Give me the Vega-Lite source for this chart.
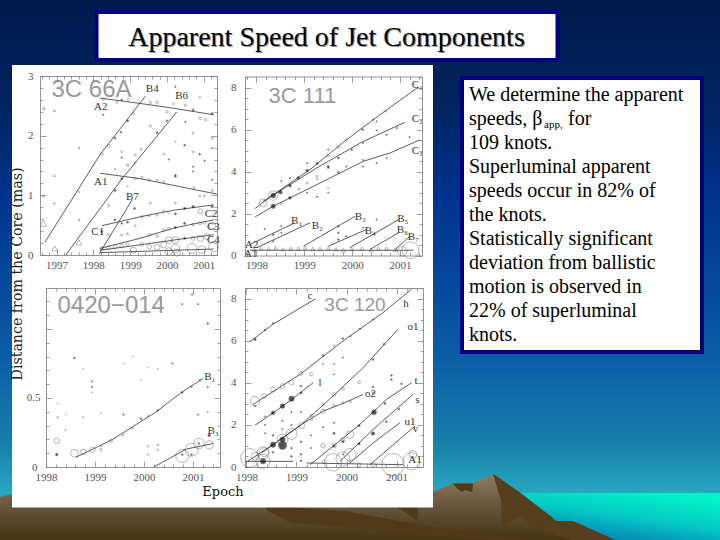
{
"$schema":"https://vega.github.io/schema/vega-lite/v6.json",
"width":720,"height":540,"padding":0,"autosize":{"type":"none"},
"background":"#01235f",
"view":{"stroke":null,"fill":{"gradient":"linear","x1":0,"y1":0,"x2":0,"y2":1,"stops":[{"offset":0,"color":"#021a4c"},{"offset":0.19,"color":"#01245f"},{"offset":0.37,"color":"#003490"},{"offset":0.65,"color":"#0a5ba6"},{"offset":0.82,"color":"#177fab"},{"offset":0.91,"color":"#29a6bf"},{"offset":1,"color":"#29a6bf"}]}},
"config":{"axis":{"grid":false,"title":null,"labelFont":"Liberation Serif","labelFontSize":11,"labelColor":"#555","domainColor":"#777","tickColor":"#777","domainWidth":0.8,"tickWidth":0.7,"labelOverlap":false,"labelBound":false,"labelFlush":false}},
"datasets":{
"land":[{"km":0,"top":497,"base":540},{"km":12,"top":494,"base":540},{"km":200,"top":494,"base":540},{"km":433,"top":492,"base":540},{"km":453,"top":483.5,"base":540},{"km":473,"top":483,"base":540},{"km":493,"top":474,"base":540},{"km":520,"top":495,"base":540},{"km":560,"top":525,"base":540},{"km":615,"top":540,"base":540}],
"ridge":[{"km":493,"top":474,"base":474},{"km":501,"top":479,"base":500},{"km":502,"top":480,"base":526},{"km":518,"top":491,"base":517},{"km":553,"top":518,"base":534},{"km":556,"top":521,"base":536},{"km":573,"top":521,"base":540},{"km":600,"top":533,"base":540},{"km":615,"top":540,"base":540}],
"notch":[{"km":453,"top":483.5,"base":484},{"km":458,"top":483.5,"base":489},{"km":462,"top":483.5,"base":492},{"km":465,"top":483.5,"base":490},{"km":472,"top":483.5,"base":492},{"km":473,"top":483.5,"base":484}],
"wedge":[{"km":266,"top":507,"base":510},{"km":291,"top":507,"base":523},{"km":345,"top":511,"base":527},{"km":420,"top":525,"base":535},{"km":500,"top":536,"base":540},{"km":530,"top":540,"base":540}],
"spur":[{"km":397,"top":507,"base":507},{"km":417,"top":507,"base":520},{"km":418,"top":507,"base":521}],
"p1lines":[
{"id":"A2","x":1998.18,"y":2.63},{"id":"A2","x":1999.27,"y":2.54},{"id":"A2","x":2000.18,"y":2.46},{"id":"A2","x":2001.27,"y":2.35},
{"id":"B4","x":1996.68,"y":0.21},{"id":"B4","x":1998.18,"y":1.68},{"id":"B4","x":1999.41,"y":2.66},
{"id":"B6","x":1997.25,"y":0},{"id":"B6","x":1998.77,"y":1.27},{"id":"B6","x":2000.27,"y":2.4},
{"id":"A1","x":1998.18,"y":1.37},{"id":"A1","x":1999.27,"y":1.28},{"id":"A1","x":2001.36,"y":1.02},
{"id":"B7","x":1998.16,"y":0.02},{"id":"B7","x":1999.05,"y":0.92},
{"id":"C1","x":1998.23,"y":0.49},{"id":"C1","x":1999.27,"y":0.64},{"id":"C1","x":2000.18,"y":0.75},{"id":"C1","x":2001.27,"y":0.84},
{"id":"C3","x":1998.18,"y":0.11},{"id":"C3","x":1999.27,"y":0.28},{"id":"C3","x":2000.18,"y":0.45},{"id":"C3","x":2001.27,"y":0.59},
{"id":"C4","x":1998.18,"y":0.08},{"id":"C4","x":1999.27,"y":0.17},{"id":"C4","x":2000.18,"y":0.25},{"id":"C4","x":2001.27,"y":0.34},
{"id":"C5","x":1998.18,"y":0.04},{"id":"C5","x":2001.27,"y":0.1}],
"p1pts":[
{"x":1996.64,"y":0.53,"f":45,"k":"t"},{"x":1996.95,"y":0.11,"f":35,"k":"t"},{"x":1997.61,"y":0.21,"f":35,"k":"t"},{"x":1996.65,"y":2.46,"f":8,"k":"t"},{"x":1996.94,"y":2.42,"f":6,"k":"t"},{"x":1997.61,"y":1.8,"f":4,"k":"t"},{"x":1996.64,"y":0.99,"f":6,"k":"t"},{"x":1996.94,"y":1.33,"f":4,"k":"t"},{"x":1996.94,"y":0.87,"f":3,"k":"t"},{"x":1997.61,"y":1.06,"f":3,"k":"t"},{"x":1997.61,"y":0.59,"f":5,"k":"t"},
{"x":1998.23,"y":1.69,"f":8,"k":"o"},{"x":1998.41,"y":1.83,"f":8,"k":"o"},{"x":1998.59,"y":1.96,"f":4,"k":"f"},{"x":1998.75,"y":2.06,"f":3,"k":"f"},{"x":1998.93,"y":2.25,"f":5,"k":"f"},{"x":1999.09,"y":2.37,"f":5,"k":"o"},{"x":1998.27,"y":2.61,"f":6,"k":"o"},{"x":1998.64,"y":2.56,"f":5,"k":"o"},{"x":1998.77,"y":2.6,"f":3,"k":"f"},{"x":1998.95,"y":2.61,"f":6,"k":"o"},{"x":1999.55,"y":2.56,"f":6,"k":"o"},{"x":1999.73,"y":2.56,"f":6,"k":"o"},{"x":2000,"y":2.4,"f":6,"k":"o"},{"x":2000.5,"y":2.51,"f":5,"k":"o"},{"x":2000.71,"y":2.43,"f":4,"k":"f"},{"x":2000.91,"y":2.29,"f":6,"k":"o"},{"x":2001.05,"y":2.27,"f":6,"k":"o"},{"x":2001.23,"y":2.37,"f":4,"k":"f"},{"x":2001.23,"y":1.96,"f":5,"k":"o"},{"x":2000.18,"y":2.53,"f":4,"k":"o"},{"x":2000.23,"y":2.82,"f":2,"k":"f"},{"x":2000.89,"y":2.64,"f":3,"k":"o"},
{"x":1998.41,"y":0.83,"f":5,"k":"o"},{"x":1998.59,"y":1.08,"f":4,"k":"f"},{"x":1998.77,"y":1.28,"f":4,"k":"f"},{"x":1999.14,"y":1.54,"f":4,"k":"o"},{"x":1999.3,"y":1.77,"f":5,"k":"o"},{"x":1999.55,"y":2.16,"f":5,"k":"o"},{"x":1999.73,"y":2.05,"f":4,"k":"f"},{"x":2000,"y":2.25,"f":3,"k":"f"},
{"x":1999.14,"y":1.28,"f":5,"k":"o"},{"x":1999.32,"y":1.3,"f":5,"k":"o"},{"x":1999.52,"y":1.26,"f":5,"k":"o"},{"x":1999.73,"y":1.25,"f":5,"k":"o"},{"x":1999.91,"y":1.23,"f":5,"k":"o"},{"x":2000.73,"y":1.13,"f":4,"k":"o"},{"x":2001.23,"y":1.08,"f":6,"k":"o"},{"x":2000.89,"y":0.99,"f":5,"k":"o"},{"x":2001.02,"y":0.99,"f":5,"k":"o"},{"x":2000.23,"y":1.32,"f":4,"k":"f"},
{"x":1998.27,"y":2.35,"f":2,"k":"f"},{"x":1998.77,"y":1.73,"f":4,"k":"o"},{"x":1998.77,"y":1.63,"f":2,"k":"f"},{"x":1998.93,"y":1.51,"f":8,"k":"t"},{"x":1999.14,"y":1.68,"f":4,"k":"o"},{"x":1999.91,"y":1.69,"f":3,"k":"o"},{"x":2000.05,"y":1.6,"f":2,"k":"f"},{"x":2000.23,"y":1.34,"f":2,"k":"f"},{"x":2000.48,"y":1.84,"f":3,"k":"f"},{"x":2000.71,"y":1.73,"f":3,"k":"o"},{"x":2000.89,"y":1.69,"f":3,"k":"f"},{"x":2001.02,"y":1.58,"f":2,"k":"f"},{"x":2001.23,"y":1.79,"f":2,"k":"f"},{"x":2001.23,"y":1.26,"f":2,"k":"f"},{"x":2000.71,"y":2.04,"f":4,"k":"o"},{"x":2000.5,"y":2.23,"f":2,"k":"f"},{"x":2000.23,"y":1.9,"f":2,"k":"o"},{"x":2000.71,"y":1.48,"f":2,"k":"f"},{"x":2000.71,"y":1.4,"f":2,"k":"f"},{"x":1998.59,"y":1.44,"f":2,"k":"o"},{"x":1998.93,"y":1.15,"f":2,"k":"o"},{"x":1999.12,"y":0.78,"f":4,"k":"f"},{"x":1999.55,"y":0.87,"f":3,"k":"o"},{"x":2000.23,"y":0.87,"f":3,"k":"o"},
{"x":1998.23,"y":0.39,"f":5,"k":"f"},{"x":1998.41,"y":0.34,"f":4,"k":"o"},{"x":1998.59,"y":0.59,"f":4,"k":"f"},{"x":1998.77,"y":0.53,"f":3,"k":"f"},{"x":1998.93,"y":0.55,"f":4,"k":"f"},{"x":1999.14,"y":0.49,"f":4,"k":"o"},{"x":1999.32,"y":0.64,"f":6,"k":"o"},{"x":1999.52,"y":0.66,"f":5,"k":"o"},{"x":1999.73,"y":0.67,"f":5,"k":"o"},{"x":1999.91,"y":0.74,"f":5,"k":"o"},{"x":2000.05,"y":0.71,"f":5,"k":"o"},{"x":2000.23,"y":0.69,"f":4,"k":"f"},{"x":2000.48,"y":0.78,"f":5,"k":"f"},{"x":2000.71,"y":0.81,"f":6,"k":"f"},{"x":2000.91,"y":0.73,"f":25,"k":"o"},{"x":2001.23,"y":0.81,"f":5,"k":"f"},{"x":1998.77,"y":0.34,"f":6,"k":"t"},{"x":1998.93,"y":0.36,"f":5,"k":"t"},
{"x":1999.53,"y":0.34,"f":8,"k":"o"},{"x":1999.73,"y":0.32,"f":8,"k":"o"},{"x":1999.91,"y":0.42,"f":8,"k":"o"},{"x":2000.05,"y":0.44,"f":8,"k":"o"},{"x":2000.23,"y":0.46,"f":5,"k":"f"},{"x":2000.48,"y":0.53,"f":5,"k":"f"},{"x":2000.71,"y":0.51,"f":7,"k":"o"},{"x":2000.89,"y":0.53,"f":10,"k":"o"},{"x":2001.02,"y":0.54,"f":10,"k":"o"},{"x":2001.23,"y":0.49,"f":50,"k":"o"},
{"x":1999.09,"y":0.08,"f":35,"k":"o"},{"x":1999.32,"y":0.18,"f":12,"k":"o"},{"x":1999.73,"y":0.13,"f":35,"k":"o"},{"x":1999.91,"y":0.17,"f":35,"k":"o"},{"x":2000.05,"y":0.25,"f":45,"k":"o"},{"x":2000.23,"y":0.25,"f":45,"k":"o"},{"x":2000.48,"y":0.28,"f":5,"k":"f"},{"x":2000.71,"y":0.28,"f":15,"k":"o"},{"x":2000.91,"y":0.28,"f":40,"k":"o"},{"x":2001.09,"y":0.31,"f":40,"k":"o"},{"x":2000.23,"y":0.11,"f":75,"k":"o"},{"x":2000.05,"y":0.06,"f":55,"k":"o"},{"x":2000.27,"y":0.04,"f":50,"k":"o"},{"x":2000.68,"y":0.11,"f":100,"k":"o"},{"x":2001.27,"y":0.14,"f":100,"k":"o"},{"x":2000.95,"y":0.09,"f":60,"k":"o"},{"x":1998.23,"y":0.11,"f":12,"k":"o"},{"x":1998.41,"y":0.12,"f":15,"k":"o"},{"x":1998.59,"y":0.14,"f":15,"k":"o"},{"x":1998.77,"y":0.15,"f":15,"k":"o"},{"x":1998.93,"y":0.18,"f":8,"k":"o"},{"x":1999.52,"y":0.14,"f":20,"k":"o"}],
"p1text":[{"x":1999.6,"y":2.78,"t":"B4"},{"x":2000.4,"y":2.67,"t":"B6"},{"x":1998.2,"y":2.48,"t":"A2"},{"x":1998.2,"y":1.22,"t":"A1"},{"x":1999.06,"y":0.98,"t":"B7"},{"x":1998.12,"y":0.39,"t":"C1"},{"x":2001.2,"y":0.68,"t":"C2"},{"x":2001.26,"y":0.47,"t":"C3"},{"x":2001.26,"y":0.25,"t":"C4"}],
"p1name":[{"x":1997.95,"y":2.76,"t":"3C 66A"}],
"p2lines":[
{"id":"C1","x":1997.97,"y":2.24},{"id":"C1","x":1998.35,"y":2.9},{"id":"C1","x":1999.12,"y":4.1},{"id":"C1","x":1999.88,"y":5.52},{"id":"C1","x":2000.72,"y":6.95},{"id":"C1","x":2001.38,"y":8.03},
{"id":"C2","x":1998.14,"y":2.59},{"id":"C2","x":1999.29,"y":4.22},{"id":"C2","x":2000.23,"y":5.44},{"id":"C2","x":2001.1,"y":6.35},
{"id":"C3","x":1997.97,"y":1.84},{"id":"C3","x":1998.35,"y":2.35},{"id":"C3","x":1999.26,"y":3.38},{"id":"C3","x":2000.23,"y":4.49},{"id":"C3","x":2000.79,"y":4.89},{"id":"C3","x":2001.42,"y":5.52},
{"id":"B1","x":1997.86,"y":0.52},{"id":"B1","x":1998.8,"y":1.56},
{"id":"B2","x":1998,"y":0.37},{"id":"B2","x":1999.12,"y":1.56},
{"id":"B3","x":1998.98,"y":0.44},{"id":"B3","x":2000.06,"y":1.87},
{"id":"B4","x":1999.5,"y":0.44},{"id":"B4","x":2000.3,"y":1.24},
{"id":"B5","x":1999.95,"y":0.37},{"id":"B5","x":2000.97,"y":1.71},
{"id":"B6","x":2000.37,"y":0.29},{"id":"B6","x":2000.97,"y":1.08},
{"id":"B7","x":2000.9,"y":0.29},{"id":"B7","x":2001.21,"y":0.92},
{"id":"A1","x":1997.86,"y":0.25},{"id":"A1","x":2001.28,"y":0.25}],
"p2pts":[
{"x":1998.14,"y":2.51,"f":60,"k":"o"},{"x":1998.35,"y":2.86,"f":25,"k":"f"},{"x":1998.35,"y":2.86,"f":90,"k":"o"},{"x":1998.5,"y":3.02,"f":14,"k":"f"},{"x":1998.7,"y":3.33,"f":8,"k":"f"},{"x":1998.87,"y":3.7,"f":7,"k":"f"},{"x":1999.06,"y":4.05,"f":7,"k":"f"},{"x":1999.27,"y":4.38,"f":5,"k":"f"},{"x":1999.5,"y":4.76,"f":5,"k":"o"},{"x":1999.71,"y":5.17,"f":7,"k":"o"},{"x":1999.88,"y":5.52,"f":4,"k":"o"},{"x":2000.22,"y":6,"f":3,"k":"f"},{"x":2000.44,"y":6.48,"f":2,"k":"f"},{"x":2000.71,"y":6.87,"f":3,"k":"o"},
{"x":1998.35,"y":2.35,"f":20,"k":"f"},{"x":1998.52,"y":2.47,"f":5,"k":"o"},{"x":1999.5,"y":4.25,"f":4,"k":"f"},{"x":1999.71,"y":4.65,"f":4,"k":"f"},{"x":1999.99,"y":5.05,"f":3,"k":"f"},{"x":2000.23,"y":5.37,"f":2,"k":"f"},{"x":2000.51,"y":5.97,"f":2,"k":"f"},{"x":2000.72,"y":5.76,"f":2,"k":"f"},{"x":2000.93,"y":6.08,"f":2,"k":"f"},
{"x":1998.7,"y":2.75,"f":8,"k":"f"},{"x":1998.89,"y":3.17,"f":5,"k":"o"},{"x":1999.06,"y":3.46,"f":5,"k":"o"},{"x":1999.27,"y":3.78,"f":4,"k":"o"},{"x":1999.27,"y":3.65,"f":3,"k":"o"},{"x":1999.5,"y":4.19,"f":3,"k":"f"},{"x":1999.71,"y":3.97,"f":3,"k":"f"},{"x":1999.88,"y":4.25,"f":2,"k":"f"},{"x":2000.23,"y":4.57,"f":4,"k":"o"},{"x":2000.23,"y":4.25,"f":2,"k":"f"},{"x":2000.72,"y":4.65,"f":2,"k":"f"},{"x":2000.51,"y":4.41,"f":2,"k":"f"},
{"x":1998.17,"y":1.27,"f":2,"k":"f"},{"x":1998.35,"y":1,"f":3,"k":"f"},{"x":1998.35,"y":0.68,"f":2,"k":"f"},{"x":1998.52,"y":1.08,"f":2,"k":"f"},{"x":1998.52,"y":1.4,"f":2,"k":"f"},{"x":1999.5,"y":5.05,"f":2,"k":"f"},{"x":1999.71,"y":1.4,"f":3,"k":"f"},{"x":1999.71,"y":1.08,"f":3,"k":"f"},{"x":1999.71,"y":0.76,"f":3,"k":"f"},{"x":1999.88,"y":0.92,"f":2,"k":"f"},{"x":2000.23,"y":1.32,"f":2,"k":"f"},{"x":2000.51,"y":1.71,"f":2,"k":"f"},{"x":1999.5,"y":3.2,"f":2,"k":"o"},{"x":1999.5,"y":3,"f":2,"k":"f"},{"x":1998.7,"y":3.7,"f":2,"k":"f"},{"x":1999.06,"y":4.4,"f":2,"k":"f"},{"x":1999.06,"y":3.0,"f":2,"k":"f"},{"x":1999.27,"y":2.8,"f":2,"k":"f"},{"x":1998.52,"y":3.55,"f":2,"k":"f"},{"x":2001.2,"y":5.65,"f":2,"k":"f"},{"x":2000.51,"y":6.4,"f":2,"k":"f"},
{"x":1997.95,"y":0.3,"f":10,"k":"t"},{"x":1998.1,"y":0.35,"f":10,"k":"t"},{"x":1998.25,"y":0.33,"f":12,"k":"t"},{"x":1998.4,"y":0.37,"f":12,"k":"t"},{"x":1998.55,"y":0.3,"f":12,"k":"t"},{"x":1998.72,"y":0.34,"f":12,"k":"t"},{"x":1998.88,"y":0.33,"f":14,"k":"t"},{"x":1999.02,"y":0.38,"f":14,"k":"t"},{"x":1999.18,"y":0.32,"f":14,"k":"t"},{"x":1999.33,"y":0.3,"f":14,"k":"t"},{"x":1999.5,"y":0.35,"f":14,"k":"t"},{"x":1999.66,"y":0.3,"f":14,"k":"t"},{"x":1999.82,"y":0.25,"f":18,"k":"t"},{"x":2000,"y":0.3,"f":14,"k":"t"},{"x":2000.2,"y":0.33,"f":14,"k":"t"},{"x":2000.4,"y":0.25,"f":18,"k":"t"},{"x":2000.55,"y":0.32,"f":14,"k":"t"},{"x":2000.72,"y":0.33,"f":14,"k":"t"},{"x":2000.9,"y":0.28,"f":18,"k":"t"},
{"x":2001.22,"y":0.25,"f":280,"k":"o"},{"x":2001.05,"y":0.2,"f":90,"k":"o"}],
"p2text":[{"x":2001.36,"y":8.15,"t":"C₁"},{"x":2001.36,"y":6.52,"t":"C₂"},{"x":2001.36,"y":5.0,"t":"C₃"},{"x":1998.84,"y":1.65,"t":"B₁"},{"x":1999.27,"y":1.4,"t":"B₂"},{"x":2000.17,"y":1.85,"t":"B₃"},{"x":2000.38,"y":1.15,"t":"B₄"},{"x":2001.06,"y":1.75,"t":"B₅"},{"x":2001.05,"y":1.2,"t":"B₆"},{"x":2001.28,"y":0.9,"t":"B₇"},{"x":1997.9,"y":0.52,"t":"A2"},{"x":1997.88,"y":0.08,"t":"A1"}],
"p2name":[{"x":1998.96,"y":7.62,"t":"3C 111"}],
"p3lines":[
{"id":"B1","x":1998.61,"y":0.07},{"id":"B1","x":1999.36,"y":0.2},{"id":"B1","x":2000.25,"y":0.4},{"id":"B1","x":2000.76,"y":0.54},{"id":"B1","x":2001.2,"y":0.64},
{"id":"B3","x":2000.2,"y":0},{"id":"B3","x":2000.86,"y":0.13},{"id":"B3","x":2001.41,"y":0.17}],
"p3pts":[
{"x":1998.22,"y":0.19,"f":30,"k":"o"},{"x":1998.22,"y":0.09,"f":7,"k":"f"},{"x":1998.58,"y":0.1,"f":60,"k":"o"},{"x":1998.76,"y":0.11,"f":30,"k":"o"},{"x":1998.95,"y":0.125,"f":30,"k":"o"},{"x":1999.12,"y":0.125,"f":8,"k":"o"},{"x":1999.33,"y":0.19,"f":8,"k":"o"},{"x":1999.57,"y":0.23,"f":4,"k":"o"},{"x":1999.77,"y":0.28,"f":3,"k":"o"},{"x":1999.94,"y":0.35,"f":3,"k":"f"},{"x":2000.09,"y":0.37,"f":3,"k":"o"},{"x":2000.28,"y":0.41,"f":3,"k":"f"},{"x":2000.78,"y":0.54,"f":3,"k":"f"},{"x":2000.97,"y":0.58,"f":2,"k":"f"},{"x":2001.14,"y":0.63,"f":2,"k":"f"},
{"x":2000.78,"y":0.08,"f":170,"k":"o"},{"x":2000.97,"y":0.125,"f":170,"k":"o"},{"x":2001.12,"y":0.17,"f":110,"k":"o"},{"x":2001.33,"y":0.16,"f":70,"k":"o"},{"x":2000.78,"y":0.09,"f":3,"k":"f"},{"x":2000.97,"y":0.09,"f":3,"k":"f"},{"x":2001.12,"y":0.17,"f":3,"k":"f"},
{"x":1998.58,"y":0.79,"f":3,"k":"f"},{"x":1998.76,"y":0.71,"f":1,"k":"o"},{"x":1998.94,"y":0.62,"f":2,"k":"f"},{"x":1998.94,"y":0.58,"f":2,"k":"f"},{"x":1998.94,"y":0.54,"f":1,"k":"o"},{"x":1998.24,"y":0.46,"f":1,"k":"o"},{"x":1998.24,"y":0.36,"f":2,"k":"o"},{"x":1998.41,"y":0.38,"f":1,"k":"o"},{"x":1998.4,"y":0.27,"f":2,"k":"o"},{"x":1998.76,"y":0.36,"f":2,"k":"o"},{"x":1999.12,"y":0.39,"f":1,"k":"o"},{"x":1999.58,"y":0.38,"f":2,"k":"f"},{"x":1999.58,"y":0.75,"f":1,"k":"o"},{"x":1999.77,"y":0.8,"f":1,"k":"o"},{"x":1999.94,"y":0.63,"f":1,"k":"o"},{"x":2000.09,"y":0.72,"f":1,"k":"o"},{"x":2000.28,"y":0.71,"f":1,"k":"o"},{"x":2000.58,"y":0.75,"f":2,"k":"f"},{"x":2000.78,"y":1.18,"f":2,"k":"f"},{"x":2000.98,"y":1.25,"f":2,"k":"f"},{"x":2001.1,"y":1.18,"f":2,"k":"f"},{"x":2001.3,"y":1.04,"f":3,"k":"f"},{"x":2001.3,"y":0.58,"f":2,"k":"f"},{"x":2001.3,"y":0.4,"f":1,"k":"f"},{"x":2001.1,"y":0.38,"f":2,"k":"f"},{"x":2001.33,"y":0.23,"f":7,"k":"f"},{"x":2000.09,"y":0.15,"f":3,"k":"o"},{"x":2000.09,"y":0.09,"f":3,"k":"o"},{"x":2000.28,"y":0.16,"f":3,"k":"o"},{"x":2000.28,"y":0.125,"f":3,"k":"o"},{"x":1999.12,"y":0.15,"f":3,"k":"o"}],
"p3text":[{"x":2001.34,"y":0.65,"t":"B₁"},{"x":2001.41,"y":0.26,"t":"B₃"}],
"p3name":[{"x":1999.33,"y":1.17,"t":"0420−014"}],
"p4lines":[
{"id":"c","x":1998.07,"y":5.95},{"id":"c","x":1998.53,"y":6.78},{"id":"c","x":1999.37,"y":7.97},
{"id":"h","x":1998.13,"y":2.97},{"id":"h","x":1999.07,"y":4.4},{"id":"h","x":1999.93,"y":5.98},{"id":"h","x":2000.73,"y":7.33},{"id":"h","x":2001.3,"y":8.44},
{"id":"l","x":1998.17,"y":1.98},{"id":"l","x":1998.53,"y":2.57},{"id":"l","x":1998.9,"y":3.2},{"id":"l","x":1999.33,"y":4},
{"id":"o1","x":1997.97,"y":0.19},{"id":"o1","x":1998.53,"y":1.06},{"id":"o1","x":1999.1,"y":2.02},{"id":"o1","x":1999.73,"y":3.37},{"id":"o1","x":2000.33,"y":4.71},{"id":"o1","x":2001.03,"y":6.54},
{"id":"o2","x":1998.3,"y":0.67},{"id":"o2","x":1999.1,"y":2.02},{"id":"o2","x":1999.53,"y":2.65},{"id":"o2","x":1999.93,"y":3.02},{"id":"o2","x":2000.33,"y":3.44},
{"id":"t","x":1999.27,"y":0.11},{"id":"t","x":2000.23,"y":1.94},{"id":"t","x":2000.8,"y":3.21},{"id":"t","x":2001.3,"y":4},
{"id":"s","x":1999.87,"y":0.27},{"id":"s","x":2000.53,"y":1.78},{"id":"s","x":2001.33,"y":3.44},
{"id":"u1","x":2000.07,"y":0.19},{"id":"u1","x":2000.53,"y":1.14},{"id":"u1","x":2001.07,"y":2.1},
{"id":"v","x":2000.47,"y":0.11},{"id":"v","x":2001.37,"y":1.94},
{"id":"a","x":1998,"y":0.27},{"id":"a","x":1998.93,"y":0.27},
{"id":"b","x":1999.2,"y":0.19},{"id":"b","x":2001.13,"y":0.11}],
"p4pts":[
{"x":1998.17,"y":6.06,"f":6,"k":"f"},{"x":1998.37,"y":6.51,"f":3,"k":"f"},{"x":1998.53,"y":6.83,"f":2,"k":"f"},
{"x":1998.17,"y":3.13,"f":90,"k":"o"},{"x":1998.35,"y":3.37,"f":25,"k":"o"},{"x":1998.53,"y":3.68,"f":25,"k":"o"},{"x":1998.72,"y":3.84,"f":25,"k":"o"},{"x":1998.9,"y":4,"f":25,"k":"o"},{"x":1999.09,"y":4.44,"f":15,"k":"o"},{"x":1999.29,"y":4.4,"f":10,"k":"o"},{"x":1999.53,"y":5.3,"f":3,"k":"f"},{"x":1999.75,"y":5.75,"f":4,"k":"o"},{"x":1999.93,"y":6.1,"f":3,"k":"f"},{"x":2000.08,"y":6.22,"f":2,"k":"f"},{"x":2000.27,"y":6.57,"f":2,"k":"f"},{"x":2000.53,"y":7,"f":2,"k":"f"},
{"x":1998.53,"y":2.57,"f":14,"k":"f"},{"x":1998.72,"y":2.89,"f":22,"k":"f"},{"x":1998.9,"y":3.24,"f":30,"k":"f"},{"x":1999.09,"y":3.52,"f":5,"k":"f"},{"x":1999.09,"y":3.84,"f":3,"k":"f"},
{"x":1998.17,"y":0.51,"f":60,"k":"o"},{"x":1998.35,"y":0.7,"f":80,"k":"o"},{"x":1998.53,"y":1.06,"f":30,"k":"f"},{"x":1998.72,"y":1.3,"f":30,"k":"f"},{"x":1998.72,"y":1.03,"f":70,"k":"f"},{"x":1998.9,"y":1.57,"f":120,"k":"o"},{"x":1998.72,"y":1.3,"f":120,"k":"o"},{"x":1999.1,"y":1.97,"f":40,"k":"o"},{"x":1999.3,"y":2.44,"f":8,"k":"o"},{"x":1999.53,"y":2.97,"f":8,"k":"o"},{"x":1999.75,"y":3.44,"f":15,"k":"o"},{"x":1999.93,"y":3.71,"f":8,"k":"o"},{"x":2000.25,"y":4.03,"f":8,"k":"o"},{"x":2000.53,"y":5.11,"f":3,"k":"f"},{"x":2000.75,"y":5.83,"f":3,"k":"f"},
{"x":1999.3,"y":2.25,"f":5,"k":"o"},{"x":1999.53,"y":2.65,"f":20,"k":"o"},{"x":1999.75,"y":2.92,"f":5,"k":"o"},{"x":1999.93,"y":3.05,"f":5,"k":"o"},{"x":2000.08,"y":3.1,"f":5,"k":"o"},
{"x":1999.53,"y":1.02,"f":20,"k":"o"},{"x":1999.75,"y":1.03,"f":20,"k":"o"},{"x":1999.93,"y":1.3,"f":15,"k":"o"},{"x":2000.07,"y":1.54,"f":60,"k":"o"},{"x":2000.25,"y":1.97,"f":5,"k":"f"},{"x":2000.55,"y":2.6,"f":25,"k":"f"},{"x":2000.77,"y":3.02,"f":4,"k":"f"},{"x":2000.53,"y":1.59,"f":12,"k":"f"},{"x":2000.25,"y":1.1,"f":6,"k":"f"},{"x":2000.8,"y":2.15,"f":3,"k":"f"},{"x":2001.05,"y":2.75,"f":3,"k":"f"},{"x":2000.53,"y":3.5,"f":3,"k":"f"},{"x":2000.53,"y":3.8,"f":3,"k":"f"},{"x":2000.9,"y":4.15,"f":3,"k":"f"},{"x":2000.9,"y":4.35,"f":3,"k":"f"},{"x":2001.1,"y":3.95,"f":3,"k":"f"},{"x":1999.75,"y":1.6,"f":5,"k":"f"},{"x":1999.75,"y":1.0,"f":5,"k":"f"},{"x":1999.93,"y":1.2,"f":5,"k":"f"},{"x":1999.53,"y":4.9,"f":3,"k":"o"},{"x":1999.75,"y":4.9,"f":3,"k":"o"},
{"x":1998.07,"y":0.43,"f":350,"k":"o"},{"x":1998.33,"y":0.27,"f":200,"k":"o"},{"x":1998.33,"y":0.67,"f":150,"k":"o"},{"x":1999.73,"y":0.22,"f":300,"k":"o"},{"x":1999.93,"y":0.38,"f":200,"k":"o"},{"x":2000.07,"y":0.59,"f":150,"k":"o"},{"x":2000.93,"y":0.11,"f":500,"k":"o"},{"x":2001.3,"y":0.27,"f":300,"k":"o"},{"x":2001.33,"y":0.6,"f":60,"k":"o"},{"x":1998.33,"y":0.27,"f":30,"k":"f"},{"x":1999.55,"y":0.25,"f":15,"k":"o"},{"x":2000.25,"y":0.1,"f":15,"k":"o"},{"x":2000.53,"y":0.1,"f":20,"k":"o"},
{"x":1998.17,"y":2.9,"f":2,"k":"f"},{"x":1998.37,"y":2.4,"f":2,"k":"f"},{"x":1998.37,"y":2.0,"f":2,"k":"f"},{"x":1998.37,"y":1.6,"f":2,"k":"f"},{"x":1998.53,"y":1.5,"f":3,"k":"f"},{"x":1998.53,"y":0.7,"f":3,"k":"f"},{"x":1998.72,"y":2.2,"f":2,"k":"f"},{"x":1998.72,"y":1.8,"f":2,"k":"f"},{"x":1998.9,"y":2.6,"f":2,"k":"f"},{"x":1998.9,"y":2.0,"f":2,"k":"f"},{"x":1998.9,"y":0.9,"f":3,"k":"f"},{"x":1998.9,"y":0.5,"f":3,"k":"f"},{"x":1999.09,"y":2.6,"f":2,"k":"f"},{"x":1999.09,"y":1.2,"f":3,"k":"f"},{"x":1999.09,"y":0.6,"f":3,"k":"f"},{"x":1999.09,"y":0.3,"f":3,"k":"f"},{"x":1999.29,"y":1.5,"f":2,"k":"f"},{"x":1999.29,"y":0.9,"f":2,"k":"f"},{"x":1999.53,"y":1.9,"f":2,"k":"f"},{"x":1999.75,"y":2.1,"f":2,"k":"f"},{"x":1999.93,"y":0.6,"f":2,"k":"f"},{"x":1999.75,"y":4.4,"f":2,"k":"f"},{"x":1999.93,"y":5.2,"f":2,"k":"f"}],
"p4text":[{"x":1999.27,"y":8.1,"t":"c"},{"x":2001.19,"y":7.75,"t":"h"},{"x":2001.33,"y":6.65,"t":"o1"},{"x":1999.47,"y":4.0,"t":"l"},{"x":2000.48,"y":3.45,"t":"o2"},{"x":2001.39,"y":4.08,"t":"t"},{"x":2001.42,"y":3.18,"t":"s"},{"x":2001.27,"y":2.15,"t":"u1"},{"x":2001.38,"y":1.8,"t":"v"},{"x":2001.37,"y":0.35,"t":"A1"}],
"p4name":[{"x":2000.17,"y":7.67,"t":"3C 120"}],
"body":[{"row":1,"line":"\u00a0We determine the apparent"},{"row":2,"line":"speeds, β"},{"row":3,"line":"109 knots."},{"row":4,"line":"Superluminal apparent"},{"row":5,"line":"speeds occur in 82% of"},{"row":6,"line":"the knots."},{"row":7,"line":"Statistically significant"},{"row":8,"line":"deviation from ballistic"},{"row":9,"line":"motion is observed in"},{"row":10,"line":"22% of superluminal"},{"row":11,"line":"knots."}]
},
"resolve":{"scale":{"x":"independent","y":"independent"}},
"layer":[
{"data":{"values":[{"part":"sea"}]},"mark":{"type":"rect","fill":{"gradient":"linear","x1":1,"y1":0,"x2":0.35,"y2":1,"stops":[{"offset":0,"color":"#00ffc8"},{"offset":0.55,"color":"#04c8c4"},{"offset":1,"color":"#0a78b4"}]}},"encoding":{"x":{"value":500},"x2":{"value":720},"y":{"value":493},"y2":{"value":540}}},
{"encoding":{"x":{"field":"km","type":"quantitative","scale":{"domain":[0,720],"range":[0,720]},"axis":null},"y":{"field":"top","type":"quantitative","scale":{"domain":[0,540],"range":[0,540]},"axis":null},"y2":{"field":"base"}},
 "layer":[
 {"data":{"name":"land"},"mark":{"type":"area","orient":"vertical","fill":{"gradient":"linear","x1":0,"y1":0,"x2":0,"y2":1,"stops":[{"offset":0,"color":"#8d7d66"},{"offset":0.5,"color":"#66553a"},{"offset":1,"color":"#463413"}]}}},
 {"data":{"name":"ridge"},"mark":{"type":"area","orient":"vertical","fill":"#553f1c"}},
 {"data":{"name":"notch"},"mark":{"type":"area","orient":"vertical","fill":"#4f3a18"}},
 {"data":{"name":"wedge"},"mark":{"type":"area","orient":"vertical","fill":"#4f3b19"}},
 {"data":{"name":"spur"},"mark":{"type":"area","orient":"vertical","fill":"#4f3b19"}}
 ]},
{"data":{"values":[{"part":"figure"}]},"mark":{"type":"rect","fill":"#ffffff"},"encoding":{"x":{"value":12},"x2":{"value":433},"y":{"value":65},"y2":{"value":507.5}}},
{"data":{"values":[{"part":"title box"}]},"mark":{"type":"rect","fill":"#ffffff","stroke":"#000080","strokeWidth":4},"encoding":{"x":{"value":96.5},"x2":{"value":557.5},"y":{"value":12},"y2":{"value":60}}},
{"data":{"values":[{"part":"text box"}]},"mark":{"type":"rect","fill":"#ffffff","stroke":"#000080","strokeWidth":4},"encoding":{"x":{"value":462},"x2":{"value":702},"y":{"value":78},"y2":{"value":352}}},
{"data":{"values":[{"label":"Apparent Speed of Jet Components"}]},"mark":{"type":"text","font":"Liberation Serif","fontSize":28,"fill":"#9a9a9a","align":"center","baseline":"alphabetic"},"encoding":{"x":{"value":327.5},"y":{"value":47},"text":{"field":"label"}}},
{"data":{"values":[{"label":"Apparent Speed of Jet Components"}]},"mark":{"type":"text","font":"Liberation Serif","fontSize":28,"fill":"#000000","align":"center","baseline":"alphabetic"},"encoding":{"x":{"value":326.5},"y":{"value":46},"text":{"field":"label"}}},
{"encoding":{"y":{"field":"row","type":"quantitative","scale":{"domain":[1,11],"range":[100.7,340.7]},"axis":null},"text":{"field":"line"}},
 "layer":[
 {"data":{"name":"body"},"mark":{"type":"text","font":"Liberation Serif","fontSize":20,"fill":"#000","align":"left","baseline":"alphabetic"},"encoding":{"x":{"value":469}}},
 {"data":{"values":[{"row":2,"line":"app,"}]},"mark":{"type":"text","font":"Liberation Serif","fontSize":11,"fill":"#000","align":"left","baseline":"alphabetic","dy":3},"encoding":{"x":{"value":544}}},
 {"data":{"values":[{"row":2,"line":"for"}]},"mark":{"type":"text","font":"Liberation Serif","fontSize":20,"fill":"#000","align":"left","baseline":"alphabetic"},"encoding":{"x":{"value":568}}}
 ]},
{"data":{"values":[{"label":"Distance from the Core (mas)"}]},"mark":{"type":"text","font":"DejaVu Serif","fontSize":14.2,"fill":"#222","angle":270,"align":"center","baseline":"middle"},"encoding":{"x":{"value":18},"y":{"value":274},"text":{"field":"label"}}},
{"data":{"values":[{"label":"Epoch"}]},"mark":{"type":"text","font":"DejaVu Serif","fontSize":13,"fill":"#111","align":"center","baseline":"middle"},"encoding":{"x":{"value":223},"y":{"value":492},"text":{"field":"label"}}},

{"encoding":{"x":{"field":"x","type":"quantitative","scale":{"domain":[1996.55,2001.36],"range":[40,217],"nice":false,"zero":false},"axis":null},"y":{"field":"y","type":"quantitative","scale":{"domain":[0,3],"range":[255,76],"nice":false,"zero":false},"axis":null}},
 "resolve":{"axis":{"x":"independent","y":"independent"}},
 "layer":[
 {"data":{"name":"p1name"},"mark":{"type":"point","opacity":0},"encoding":{
  "x":{"field":"x","type":"quantitative","scale":{"domain":[1996.55,2001.36],"range":[40,217],"nice":false,"zero":false},"axis":{"zindex":1,"orient":"bottom","offset":-285,"values":[1996.6,1996.8,1997,1997.2,1997.4,1997.6,1997.8,1998,1998.2,1998.4,1998.6,1998.8,1999,1999.2,1999.4,1999.6,1999.8,2000,2000.2,2000.4,2000.6,2000.8,2001,2001.2],"labelExpr":"datum.value%1===0?format(datum.value,'d'):''","tickSize":{"condition":{"test":"datum.value%1===0","value":-6},"value":-3},"labelPadding":10}},
  "y":{"field":"y","type":"quantitative","scale":{"domain":[0,3],"range":[255,76],"nice":false,"zero":false},"axis":{"zindex":1,"orient":"left","offset":-40,"values":[0,0.2,0.4,0.6,0.8,1,1.2,1.4,1.6,1.8,2,2.2,2.4,2.6,2.8,3],"labelExpr":"datum.value%1===0?format(datum.value,'d'):''","tickSize":{"condition":{"test":"datum.value%1===0","value":-6},"value":-3},"labelPadding":13}}}},
 {"data":{"name":"p1name"},"mark":{"type":"point","opacity":0},"encoding":{
  "x":{"field":"x","type":"quantitative","scale":{"domain":[1996.55,2001.36],"range":[40,217],"nice":false,"zero":false},"axis":{"zindex":1,"orient":"top","offset":-76,"labels":false,"values":[1996.6,1996.8,1997,1997.2,1997.4,1997.6,1997.8,1998,1998.2,1998.4,1998.6,1998.8,1999,1999.2,1999.4,1999.6,1999.8,2000,2000.2,2000.4,2000.6,2000.8,2001,2001.2],"tickSize":{"condition":{"test":"datum.value%1===0","value":-6},"value":-3}}},
  "y":{"field":"y","type":"quantitative","scale":{"domain":[0,3],"range":[255,76],"nice":false,"zero":false},"axis":{"zindex":1,"orient":"right","offset":-503,"labels":false,"values":[0,0.2,0.4,0.6,0.8,1,1.2,1.4,1.6,1.8,2,2.2,2.4,2.6,2.8,3],"tickSize":{"condition":{"test":"datum.value%1===0","value":-6},"value":-3}}}}},
 {"data":{"name":"p1lines"},"mark":{"type":"line","stroke":"#333","strokeWidth":0.8},"encoding":{"detail":{"field":"id"}}},
 {"data":{"name":"p1pts"},"mark":{"type":"point","filled":true,"stroke":"#444","strokeWidth":0.55},"encoding":{"size":{"field":"f","type":"quantitative","scale":null,"legend":null},"shape":{"field":"k","scale":{"domain":["o","f","t"],"range":["circle","circle","triangle-up"]},"legend":null},"fill":{"field":"k","scale":{"domain":["o","f","t"],"range":["transparent","#111","transparent"]},"legend":null}}},
 {"data":{"name":"p1text"},"mark":{"type":"text","font":"Liberation Serif","fontSize":11,"fill":"#333"},"encoding":{"text":{"field":"t"}}},
 {"data":{"name":"p1name"},"mark":{"type":"text","font":"Liberation Sans","fontSize":24,"fill":"#999","letterSpacing":1},"encoding":{"text":{"field":"t"}}}
 ]},

{"encoding":{"x":{"field":"x","type":"quantitative","scale":{"domain":[1997.76,2001.46],"range":[245,422],"nice":false,"zero":false},"axis":null},"y":{"field":"y","type":"quantitative","scale":{"domain":[0,8.54],"range":[255.5,76.5],"nice":false,"zero":false},"axis":null}},
 "resolve":{"axis":{"x":"independent","y":"independent"}},
 "layer":[
 {"data":{"name":"p2name"},"mark":{"type":"point","opacity":0},"encoding":{
  "x":{"field":"x","type":"quantitative","scale":{"domain":[1997.76,2001.46],"range":[245,422],"nice":false,"zero":false},"axis":{"zindex":1,"orient":"bottom","offset":-284.5,"values":[1997.8,1998,1998.2,1998.4,1998.6,1998.8,1999,1999.2,1999.4,1999.6,1999.8,2000,2000.2,2000.4,2000.6,2000.8,2001,2001.2,2001.4],"labelExpr":"datum.value%1===0?format(datum.value,'d'):''","tickSize":{"condition":{"test":"datum.value%1===0","value":-6},"value":-3},"labelPadding":10}},
  "y":{"field":"y","type":"quantitative","scale":{"domain":[0,8.54],"range":[255.5,76.5],"nice":false,"zero":false},"axis":{"zindex":1,"orient":"left","offset":-245,"values":[0,0.5,1,1.5,2,2.5,3,3.5,4,4.5,5,5.5,6,6.5,7,7.5,8,8.5],"labelExpr":"datum.value%2===0?format(datum.value,'d'):''","tickSize":{"condition":{"test":"datum.value%2===0","value":-6},"value":-3},"labelPadding":15}}}},
 {"data":{"name":"p2name"},"mark":{"type":"point","opacity":0},"encoding":{
  "x":{"field":"x","type":"quantitative","scale":{"domain":[1997.76,2001.46],"range":[245,422],"nice":false,"zero":false},"axis":{"zindex":1,"orient":"top","offset":-76.5,"labels":false,"values":[1997.8,1998,1998.2,1998.4,1998.6,1998.8,1999,1999.2,1999.4,1999.6,1999.8,2000,2000.2,2000.4,2000.6,2000.8,2001,2001.2,2001.4],"tickSize":{"condition":{"test":"datum.value%1===0","value":-6},"value":-3}}},
  "y":{"field":"y","type":"quantitative","scale":{"domain":[0,8.54],"range":[255.5,76.5],"nice":false,"zero":false},"axis":{"zindex":1,"orient":"right","offset":-298,"labels":false,"values":[0,0.5,1,1.5,2,2.5,3,3.5,4,4.5,5,5.5,6,6.5,7,7.5,8,8.5],"tickSize":{"condition":{"test":"datum.value%2===0","value":-6},"value":-3}}}}},
 {"data":{"name":"p2lines"},"mark":{"type":"line","stroke":"#333","strokeWidth":0.8},"encoding":{"detail":{"field":"id"}}},
 {"data":{"name":"p2pts"},"mark":{"type":"point","filled":true,"stroke":"#444","strokeWidth":0.55},"encoding":{"size":{"field":"f","type":"quantitative","scale":null,"legend":null},"shape":{"field":"k","scale":{"domain":["o","f","t"],"range":["circle","circle","triangle-up"]},"legend":null},"fill":{"field":"k","scale":{"domain":["o","f","t"],"range":["transparent","#111","transparent"]},"legend":null}}},
 {"data":{"name":"p2text"},"mark":{"type":"text","font":"Liberation Serif","fontSize":11,"fill":"#333"},"encoding":{"text":{"field":"t"}}},
 {"data":{"name":"p2name"},"mark":{"type":"text","font":"Liberation Sans","fontSize":22,"fill":"#999","letterSpacing":3},"encoding":{"text":{"field":"t"}}}
 ]},

{"encoding":{"x":{"field":"x","type":"quantitative","scale":{"domain":[1998,2001.55],"range":[46,220],"nice":false,"zero":false},"axis":null},"y":{"field":"y","type":"quantitative","scale":{"domain":[0,1.297],"range":[467,288],"nice":false,"zero":false},"axis":null}},
 "resolve":{"axis":{"x":"independent","y":"independent"}},
 "layer":[
 {"data":{"name":"p3name"},"mark":{"type":"point","opacity":0},"encoding":{
  "x":{"field":"x","type":"quantitative","scale":{"domain":[1998,2001.55],"range":[46,220],"nice":false,"zero":false},"axis":{"zindex":1,"orient":"bottom","offset":-73,"values":[1998,1998.2,1998.4,1998.6,1998.8,1999,1999.2,1999.4,1999.6,1999.8,2000,2000.2,2000.4,2000.6,2000.8,2001,2001.2,2001.4],"labelExpr":"datum.value%1===0?format(datum.value,'d'):''","tickSize":{"condition":{"test":"datum.value%1===0","value":-6},"value":-3},"labelPadding":10}},
  "y":{"field":"y","type":"quantitative","scale":{"domain":[0,1.297],"range":[467,288],"nice":false,"zero":false},"axis":{"zindex":1,"orient":"left","offset":-46,"values":[0,0.1,0.2,0.3,0.4,0.5,0.6,0.7,0.8,0.9,1,1.1,1.2],"labelExpr":"datum.value===0?'0':(datum.value===0.5?'0.5':'')","tickSize":{"condition":{"test":"datum.value===0.5||datum.value===1","value":-6},"value":-3},"labelPadding":12}}}},
 {"data":{"name":"p3name"},"mark":{"type":"point","opacity":0},"encoding":{
  "x":{"field":"x","type":"quantitative","scale":{"domain":[1998,2001.55],"range":[46,220],"nice":false,"zero":false},"axis":{"zindex":1,"orient":"top","offset":-288,"labels":false,"values":[1998,1998.2,1998.4,1998.6,1998.8,1999,1999.2,1999.4,1999.6,1999.8,2000,2000.2,2000.4,2000.6,2000.8,2001,2001.2,2001.4],"tickSize":{"condition":{"test":"datum.value%1===0","value":-6},"value":-3}}},
  "y":{"field":"y","type":"quantitative","scale":{"domain":[0,1.297],"range":[467,288],"nice":false,"zero":false},"axis":{"zindex":1,"orient":"right","offset":-500,"labels":false,"values":[0,0.1,0.2,0.3,0.4,0.5,0.6,0.7,0.8,0.9,1,1.1,1.2],"tickSize":{"condition":{"test":"datum.value===0.5||datum.value===1","value":-6},"value":-3}}}}},
 {"data":{"name":"p3lines"},"mark":{"type":"line","stroke":"#333","strokeWidth":0.8},"encoding":{"detail":{"field":"id"}}},
 {"data":{"name":"p3pts"},"mark":{"type":"point","filled":true,"stroke":"#444","strokeWidth":0.55},"encoding":{"size":{"field":"f","type":"quantitative","scale":null,"legend":null},"shape":{"field":"k","scale":{"domain":["o","f","t"],"range":["circle","circle","triangle-up"]},"legend":null},"fill":{"field":"k","scale":{"domain":["o","f","t"],"range":["transparent","#111","transparent"]},"legend":null}}},
 {"data":{"name":"p3text"},"mark":{"type":"text","font":"Liberation Serif","fontSize":11,"fill":"#333"},"encoding":{"text":{"field":"t"}}},
 {"data":{"name":"p3name"},"mark":{"type":"text","font":"Liberation Sans","fontSize":24,"fill":"#999","letterSpacing":1.5},"encoding":{"text":{"field":"t"}}}
 ]},

{"encoding":{"x":{"field":"x","type":"quantitative","scale":{"domain":[1997.97,2001.53],"range":[245,423],"nice":false,"zero":false},"axis":null},"y":{"field":"y","type":"quantitative","scale":{"domain":[0,8.5],"range":[467,288],"nice":false,"zero":false},"axis":null}},
 "resolve":{"axis":{"x":"independent","y":"independent"}},
 "layer":[
 {"data":{"name":"p4name"},"mark":{"type":"point","opacity":0},"encoding":{
  "x":{"field":"x","type":"quantitative","scale":{"domain":[1997.97,2001.53],"range":[245,423],"nice":false,"zero":false},"axis":{"zindex":1,"orient":"bottom","offset":-73,"values":[1998,1998.2,1998.4,1998.6,1998.8,1999,1999.2,1999.4,1999.6,1999.8,2000,2000.2,2000.4,2000.6,2000.8,2001,2001.2,2001.4],"labelExpr":"datum.value%1===0?format(datum.value,'d'):''","tickSize":{"condition":{"test":"datum.value%1===0","value":-6},"value":-3},"labelPadding":10}},
  "y":{"field":"y","type":"quantitative","scale":{"domain":[0,8.5],"range":[467,288],"nice":false,"zero":false},"axis":{"zindex":1,"orient":"left","offset":-245,"values":[0,0.5,1,1.5,2,2.5,3,3.5,4,4.5,5,5.5,6,6.5,7,7.5,8,8.5],"labelExpr":"datum.value%2===0?format(datum.value,'d'):''","tickSize":{"condition":{"test":"datum.value%2===0","value":-6},"value":-3},"labelPadding":15}}}},
 {"data":{"name":"p4name"},"mark":{"type":"point","opacity":0},"encoding":{
  "x":{"field":"x","type":"quantitative","scale":{"domain":[1997.97,2001.53],"range":[245,423],"nice":false,"zero":false},"axis":{"zindex":1,"orient":"top","offset":-288,"labels":false,"values":[1998,1998.2,1998.4,1998.6,1998.8,1999,1999.2,1999.4,1999.6,1999.8,2000,2000.2,2000.4,2000.6,2000.8,2001,2001.2,2001.4],"tickSize":{"condition":{"test":"datum.value%1===0","value":-6},"value":-3}}},
  "y":{"field":"y","type":"quantitative","scale":{"domain":[0,8.5],"range":[467,288],"nice":false,"zero":false},"axis":{"zindex":1,"orient":"right","offset":-297,"labels":false,"values":[0,0.5,1,1.5,2,2.5,3,3.5,4,4.5,5,5.5,6,6.5,7,7.5,8,8.5],"tickSize":{"condition":{"test":"datum.value%2===0","value":-6},"value":-3}}}}},
 {"data":{"name":"p4lines"},"mark":{"type":"line","stroke":"#333","strokeWidth":0.8},"encoding":{"detail":{"field":"id"}}},
 {"data":{"name":"p4pts"},"mark":{"type":"point","filled":true,"stroke":"#444","strokeWidth":0.55},"encoding":{"size":{"field":"f","type":"quantitative","scale":null,"legend":null},"shape":{"field":"k","scale":{"domain":["o","f","t"],"range":["circle","circle","triangle-up"]},"legend":null},"fill":{"field":"k","scale":{"domain":["o","f","t"],"range":["transparent","#111","transparent"]},"legend":null}}},
 {"data":{"name":"p4text"},"mark":{"type":"text","font":"Liberation Serif","fontSize":11,"fill":"#333"},"encoding":{"text":{"field":"t"}}},
 {"data":{"name":"p4name"},"mark":{"type":"text","font":"Liberation Sans","fontSize":19,"fill":"#999","letterSpacing":1.5},"encoding":{"text":{"field":"t"}}}
 ]}
]
}
